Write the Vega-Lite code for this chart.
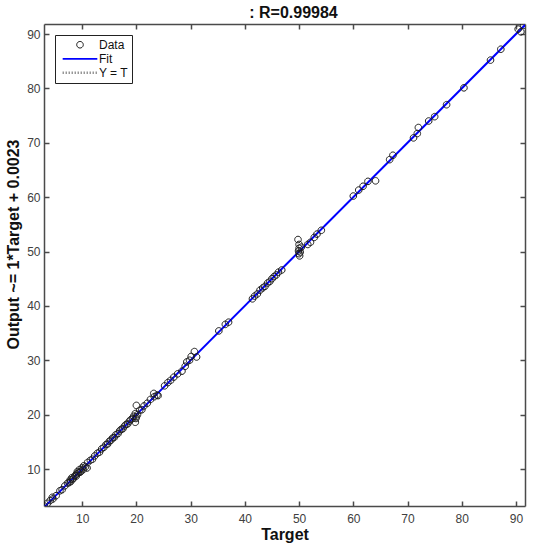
{
  "$schema": "https://vega.github.io/schema/vega-lite/v6.json",
  "width": 481,
  "height": 482,
  "autosize": {"type": "none"},
  "padding": {"left": 44, "top": 24, "right": 14, "bottom": 44},
  "background": "white",
  "title": {"text": ": R=0.99984", "fontSize": 16, "fontWeight": "bold", "font": "Liberation Sans", "color": "#111", "anchor": "middle", "offset": 2, "dx": 9},
  "config": {
    "view": {"stroke": null},
    "axis": {"grid": false, "domainColor": "#4a4a4a", "domainWidth": 1.5, "tickColor": "#4a4a4a", "tickWidth": 1.5, "tickSize": -5, "labelFont": "Liberation Sans", "labelFontSize": 12, "labelColor": "#404040", "titleFont": "Liberation Sans", "titleFontSize": 16, "titleFontWeight": "bold", "titleColor": "#111"},
    "legend": {"orient": "top-left", "offset": 11, "strokeColor": "#222", "fillColor": "white", "padding": 3, "rowPadding": 0, "symbolSize": 1200, "clipHeight": 13.5, "symbolOffset": 3, "labelOffset": 0, "labelFont": "Liberation Sans", "labelFontSize": 12, "labelColor": "#111"}
  },
  "datasets": {
    "yt": [{"x": 2.96, "y": 2.96}, {"x": 91.66, "y": 91.66}],
    "fit": [{"x": 2.96, "y": 2.9623}, {"x": 91.66, "y": 91.6623}],
    "pts": [
      {"x": 91.4, "y": 91.6, "series": "Data"}, {"x": 90.9, "y": 90.4, "series": "Data"}, {"x": 90.4, "y": 90.9, "series": "Data"},
      {"x": 87.2, "y": 87.2, "series": "Data"}, {"x": 85.3, "y": 85.2, "series": "Data"}, {"x": 80.4, "y": 80.1, "series": "Data"},
      {"x": 77.2, "y": 77.0, "series": "Data"}, {"x": 75.0, "y": 74.8, "series": "Data"}, {"x": 73.9, "y": 74.0, "series": "Data"},
      {"x": 72.0, "y": 72.8, "series": "Data"}, {"x": 71.8, "y": 71.7, "series": "Data"}, {"x": 71.1, "y": 70.9, "series": "Data"},
      {"x": 67.3, "y": 67.7, "series": "Data"}, {"x": 66.7, "y": 66.9, "series": "Data"}, {"x": 64.1, "y": 63.0, "series": "Data"},
      {"x": 62.7, "y": 62.9, "series": "Data"}, {"x": 61.8, "y": 62.0, "series": "Data"}, {"x": 61.0, "y": 61.3, "series": "Data"},
      {"x": 60.0, "y": 60.2, "series": "Data"}, {"x": 54.1, "y": 53.9, "series": "Data"}, {"x": 53.3, "y": 53.2, "series": "Data"},
      {"x": 52.8, "y": 52.6, "series": "Data"}, {"x": 52.1, "y": 51.7, "series": "Data"}, {"x": 51.6, "y": 51.3, "series": "Data"},
      {"x": 49.8, "y": 52.2, "series": "Data"}, {"x": 50.0, "y": 51.3, "series": "Data"}, {"x": 50.0, "y": 50.6, "series": "Data"},
      {"x": 49.9, "y": 50.1, "series": "Data"}, {"x": 50.0, "y": 49.6, "series": "Data"}, {"x": 50.1, "y": 49.2, "series": "Data"},
      {"x": 50.4, "y": 50.8, "series": "Data"}, {"x": 50.2, "y": 49.9, "series": "Data"}, {"x": 46.8, "y": 46.6, "series": "Data"},
      {"x": 46.2, "y": 46.2, "series": "Data"}, {"x": 45.8, "y": 45.7, "series": "Data"}, {"x": 45.4, "y": 45.4, "series": "Data"},
      {"x": 45.0, "y": 45.0, "series": "Data"}, {"x": 44.6, "y": 44.5, "series": "Data"}, {"x": 44.2, "y": 44.2, "series": "Data"},
      {"x": 43.7, "y": 43.6, "series": "Data"}, {"x": 43.3, "y": 43.3, "series": "Data"}, {"x": 42.8, "y": 42.9, "series": "Data"},
      {"x": 42.3, "y": 42.2, "series": "Data"}, {"x": 41.8, "y": 41.8, "series": "Data"}, {"x": 41.4, "y": 41.3, "series": "Data"},
      {"x": 37.0, "y": 37.0, "series": "Data"}, {"x": 36.4, "y": 36.6, "series": "Data"}, {"x": 35.2, "y": 35.4, "series": "Data"},
      {"x": 31.1, "y": 30.6, "series": "Data"}, {"x": 30.7, "y": 31.6, "series": "Data"}, {"x": 30.1, "y": 30.7, "series": "Data"},
      {"x": 29.8, "y": 30.0, "series": "Data"}, {"x": 29.3, "y": 29.7, "series": "Data"}, {"x": 29.0, "y": 28.9, "series": "Data"},
      {"x": 28.4, "y": 28.0, "series": "Data"}, {"x": 27.6, "y": 27.5, "series": "Data"}, {"x": 26.9, "y": 26.9, "series": "Data"},
      {"x": 26.3, "y": 26.3, "series": "Data"}, {"x": 25.8, "y": 25.9, "series": "Data"}, {"x": 25.2, "y": 25.3, "series": "Data"},
      {"x": 24.0, "y": 23.5, "series": "Data"}, {"x": 23.8, "y": 23.6, "series": "Data"}, {"x": 23.2, "y": 23.9, "series": "Data"},
      {"x": 23.3, "y": 23.3, "series": "Data"}, {"x": 22.6, "y": 22.8, "series": "Data"}, {"x": 22.0, "y": 22.1, "series": "Data"},
      {"x": 21.4, "y": 21.6, "series": "Data"}, {"x": 21.0, "y": 20.9, "series": "Data"}, {"x": 20.6, "y": 20.8, "series": "Data"},
      {"x": 20.0, "y": 21.7, "series": "Data"}, {"x": 19.8, "y": 18.6, "series": "Data"}, {"x": 19.8, "y": 20.2, "series": "Data"},
      {"x": 20.2, "y": 20.0, "series": "Data"}, {"x": 20.0, "y": 19.6, "series": "Data"}, {"x": 19.5, "y": 19.7, "series": "Data"},
      {"x": 19.9, "y": 19.3, "series": "Data"}, {"x": 19.3, "y": 19.3, "series": "Data"}, {"x": 19.0, "y": 19.1, "series": "Data"},
      {"x": 18.7, "y": 18.8, "series": "Data"}, {"x": 18.4, "y": 18.3, "series": "Data"}, {"x": 18.1, "y": 18.2, "series": "Data"},
      {"x": 17.8, "y": 17.9, "series": "Data"}, {"x": 17.5, "y": 17.4, "series": "Data"}, {"x": 17.2, "y": 17.3, "series": "Data"},
      {"x": 16.9, "y": 17.0, "series": "Data"}, {"x": 16.6, "y": 16.5, "series": "Data"}, {"x": 16.2, "y": 16.3, "series": "Data"},
      {"x": 15.9, "y": 15.8, "series": "Data"}, {"x": 15.6, "y": 15.7, "series": "Data"}, {"x": 15.3, "y": 15.3, "series": "Data"},
      {"x": 15.0, "y": 15.1, "series": "Data"}, {"x": 14.7, "y": 14.6, "series": "Data"}, {"x": 14.4, "y": 14.5, "series": "Data"},
      {"x": 14.0, "y": 14.0, "series": "Data"}, {"x": 13.6, "y": 13.7, "series": "Data"}, {"x": 13.2, "y": 13.1, "series": "Data"},
      {"x": 12.8, "y": 12.9, "series": "Data"}, {"x": 12.3, "y": 12.4, "series": "Data"}, {"x": 11.9, "y": 11.8, "series": "Data"},
      {"x": 11.5, "y": 11.6, "series": "Data"}, {"x": 11.0, "y": 11.2, "series": "Data"}, {"x": 10.9, "y": 10.2, "series": "Data"},
      {"x": 10.6, "y": 10.4, "series": "Data"}, {"x": 10.3, "y": 10.6, "series": "Data"}, {"x": 10.0, "y": 10.2, "series": "Data"},
      {"x": 10.2, "y": 9.9, "series": "Data"}, {"x": 9.8, "y": 9.6, "series": "Data"}, {"x": 9.5, "y": 9.9, "series": "Data"},
      {"x": 9.6, "y": 9.4, "series": "Data"}, {"x": 9.3, "y": 9.3, "series": "Data"}, {"x": 9.1, "y": 9.5, "series": "Data"},
      {"x": 9.0, "y": 9.1, "series": "Data"}, {"x": 8.9, "y": 8.7, "series": "Data"}, {"x": 8.7, "y": 8.8, "series": "Data"},
      {"x": 8.4, "y": 8.3, "series": "Data"}, {"x": 8.2, "y": 8.1, "series": "Data"}, {"x": 8.1, "y": 8.4, "series": "Data"},
      {"x": 7.9, "y": 7.7, "series": "Data"}, {"x": 7.8, "y": 8.0, "series": "Data"}, {"x": 7.6, "y": 7.5, "series": "Data"},
      {"x": 7.3, "y": 7.4, "series": "Data"}, {"x": 6.8, "y": 6.9, "series": "Data"}, {"x": 6.3, "y": 6.2, "series": "Data"},
      {"x": 5.9, "y": 6.0, "series": "Data"}, {"x": 5.2, "y": 5.1, "series": "Data"}, {"x": 4.5, "y": 4.8, "series": "Data"},
      {"x": 4.6, "y": 4.5, "series": "Data"}, {"x": 4.1, "y": 4.2, "series": "Data"}, {"x": 3.6, "y": 3.7, "series": "Data"},
      {"x": 3.0, "y": 3.2, "series": "Data"}
    ]
  },
  "resolve": {"axis": {"x": "independent", "y": "independent"}},
  "layer": [
    {
      "data": {"name": "yt"},
      "mark": {"type": "line", "color": "#333", "strokeDash": [1, 2], "strokeWidth": 0.8, "clip": true},
      "encoding": {
        "x": {"field": "x", "type": "quantitative", "scale": {"domain": [2.96, 91.66], "nice": false, "zero": false},
              "axis": {"orient": "bottom", "values": [10, 20, 30, 40, 50, 60, 70, 80, 90], "title": "Target", "labelPadding": 12, "titlePadding": 2}},
        "y": {"field": "y", "type": "quantitative", "scale": {"domain": [3.2, 91.84], "nice": false, "zero": false},
              "axis": {"orient": "left", "values": [10, 20, 30, 40, 50, 60, 70, 80, 90], "title": "Output ~= 1*Target + 0.0023", "labelPadding": 9, "titlePadding": 5, "titleY": 220}}
      }
    },
    {
      "data": {"name": "fit"},
      "mark": {"type": "line", "color": "#0000ff", "strokeWidth": 2, "clip": true},
      "encoding": {
        "x": {"field": "x", "type": "quantitative", "axis": null},
        "y": {"field": "y", "type": "quantitative", "axis": null}
      }
    },
    {
      "data": {"name": "pts"},
      "mark": {"type": "point", "filled": false, "size": 1200, "opacity": 1, "clip": true},
      "encoding": {
        "x": {"field": "x", "type": "quantitative", "axis": {"orient": "top", "values": [10, 20, 30, 40, 50, 60, 70, 80, 90], "labels": false, "title": null}},
        "y": {"field": "y", "type": "quantitative", "axis": {"orient": "right", "values": [10, 20, 30, 40, 50, 60, 70, 80, 90], "labels": false, "title": null}},
        "shape": {"field": "series", "type": "nominal", "title": null,
                  "scale": {"domain": ["Data", "Fit", "Y = T"], "range": ["M0.19,0A0.19,0.19,0,1,1,-0.19,0A0.19,0.19,0,1,1,0.19,0Z", "M-1,0L1,0", "M-1,0L1,0"]}},
        "stroke": {"field": "series", "type": "nominal", "title": null,
                   "scale": {"domain": ["Data", "Fit", "Y = T"], "range": ["#1a1a1a", "#0000ff", "#666666"]}},
        "strokeWidth": {"field": "series", "type": "nominal", "title": null,
                        "scale": {"domain": ["Data", "Fit", "Y = T"], "range": [1, 2.5, 0.8]}},
        "strokeDash": {"field": "series", "type": "nominal", "title": null,
                       "scale": {"domain": ["Data", "Fit", "Y = T"], "range": [[1, 0], [1, 0], [1, 2]]}}
      }
    }
  ]
}
